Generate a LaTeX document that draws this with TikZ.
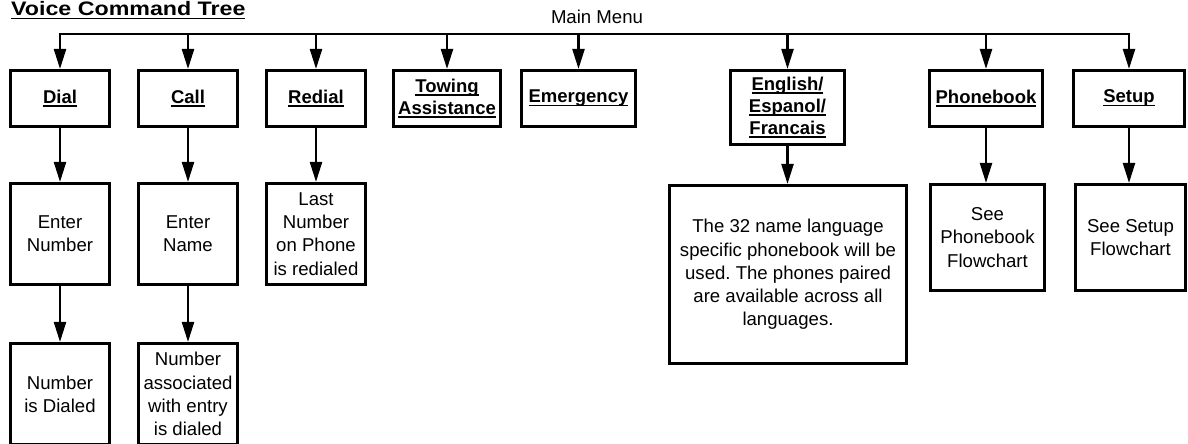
\documentclass[tikz,border=0pt]{standalone}
\usepackage{fontspec}
\setmainfont{Liberation Sans}
\usetikzlibrary{arrows.meta}
\frenchspacing
\newsavebox\ulbx
\newcommand\ulw[1]{\sbox\ulbx{#1}\rlap{\rule[-3.4pt]{\wd\ulbx}{1.4pt}}\usebox\ulbx\vphantom{Ag}}
\begin{document}
\begin{tikzpicture}[x=1pt,y=-1pt,
  box/.style={draw, line width=2.6pt, inner sep=0pt, align=center},
  lbl/.style={box, font=\fontsize{18.5}{22}\selectfont\bfseries},
  txt/.style={box, font=\fontsize{18.6}{23.3}\selectfont},
  conn/.style={line width=2.3pt, -{Triangle[length=20pt,width=12pt]}},
  busline/.style={line width=2.3pt, line cap=rect}
]
\useasboundingbox (0,0) rectangle (1188,444);
\clip (0,0) rectangle (1188,444);

% title and main menu
\node[anchor=base west, inner sep=0pt, font=\fontsize{19.5}{22}\selectfont\bfseries] (title) at (11,16)
  {\scalebox{1.19}[1]{\ulw{Voice Command Tree}}};
\node[anchor=base, inner sep=0pt, font=\fontsize{18.6}{22}\selectfont] (mm) at (597,24) {Main Menu};

% row 1
\node[lbl, minimum width=99.5pt, minimum height=56.5pt] (dial) at (60,98.5) {\ulw{Dial}};
\node[lbl, minimum width=99.5pt, minimum height=56.5pt] (call) at (188,98.5) {\ulw{Call}};
\node[lbl, minimum width=99.5pt, minimum height=56.5pt] (redial) at (316,98.5) {\ulw{Redial}};
\node[lbl, minimum width=107.5pt, minimum height=56.5pt] (tow) at (447,98.5) {\ulw{Towing}\\\ulw{Assistance}};
\node[lbl, minimum width=114.5pt, minimum height=56.5pt] (emerg) at (578.5,98.5) {\ulw{Emergency}};
\node[lbl, minimum width=114.5pt, minimum height=74.5pt] (lang) at (787.5,107.5) {\ulw{English/}\\\ulw{Espanol/}\\\ulw{Francais}};
\node[lbl, minimum width=113.5pt, minimum height=56.5pt] (pb) at (986,98.5) {\ulw{Phonebook}};
\node[lbl, minimum width=111.5pt, minimum height=56.5pt] (setup) at (1129,98.5) {\ulw{Setup}};

% row 2
\node[txt, minimum width=99.5pt, minimum height=101.5pt] (enum) at (60,234) {Enter\\Number};
\node[txt, minimum width=99.5pt, minimum height=101.5pt] (ename) at (188,234) {Enter\\Name};
\node[txt, minimum width=99.5pt, minimum height=101.5pt] (last) at (316,234) {Last\\Number\\on Phone\\is redialed};
\node[txt, minimum width=237.5pt, minimum height=178.5pt] (langtxt) at (788,274.5)
  {The 32 name language\\specific phonebook will be\\used. The phones paired\\are available across all\\languages.};
\node[txt, minimum width=114.5pt, minimum height=106.5pt] (pbsee) at (987.5,237.5) {See\\Phonebook\\Flowchart};
\node[txt, minimum width=110.5pt, minimum height=106.5pt] (setupsee) at (1130.5,237.5) {See Setup\\Flowchart};

% row 3
\node[txt, minimum width=99.5pt, minimum height=101.5pt] (ndial) at (60,394) {Number\\is Dialed};
\node[txt, minimum width=99.5pt, minimum height=101.5pt] (nassoc) at (188,394) {Number\\associated\\with entry\\is dialed};

% bus
\coordinate (bus) at (0,34);
\draw[busline] (dial.north |- bus) -- (setup.north |- bus);
\foreach \n in {dial,call,redial,tow,emerg,lang,pb,setup}
  \draw[conn] (\n.north |- bus) -- (\n.north);

% lower connectors
\draw[conn] (dial.south) -- (enum.north);
\draw[conn] (call.south) -- (ename.north);
\draw[conn] (redial.south) -- (last.north);
\draw[conn] (lang.south) -- (lang.south |- langtxt.north);
\draw[conn] (pb.south) -- (pb.south |- pbsee.north);
\draw[conn] (setup.south) -- (setup.south |- setupsee.north);
\draw[conn] (enum.south) -- (ndial.north);
\draw[conn] (ename.south) -- (nassoc.north);
\end{tikzpicture}
\end{document}
